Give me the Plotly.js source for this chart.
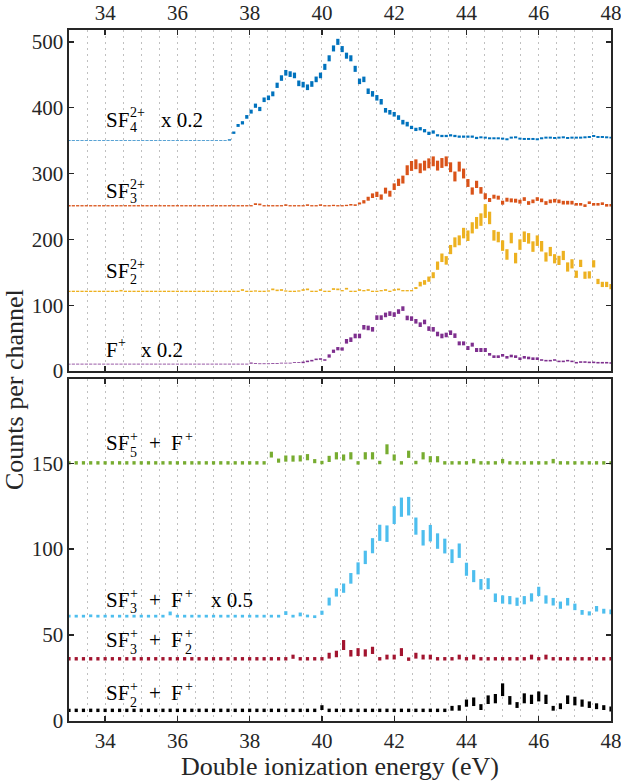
<!DOCTYPE html>
<html>
<head>
<meta charset="utf-8">
<script src="https://cdn.plot.ly/plotly-3.0.1.min.js"></script>
<style>
html,body{margin:0;padding:0;background:#fff;}
#chart{width:621px;height:781px;}
</style>
</head>
<body>
<div id="chart"></div>
<script>
// ---------- channel energies (eV) ----------
const topStart = 33, topStep = 0.12, topCount = 126;   // upper panel channels
const botStart = 33, botStep = 0.2,  botCount = 76;    // lower panel channels
const xTop = [], xBot = [];
for (let k = 0; k < topCount; k++) xTop.push(+(topStart + topStep * k).toFixed(3));
for (let j = 0; j < botCount; j++) xBot.push(+(botStart + botStep * j).toFixed(3));

const xTickVals = [34, 36, 38, 40, 42, 44, 46, 48];
const yTopTicks = [0, 100, 200, 300, 400, 500];
const yBotTicks = [0, 50, 100, 150];

// ---------- upper panel ----------
// SF4(2+) x 0.2 (offset 350)
const sf4Vals = [
 350,350,350,350,350,350,350,350,350,350,
 350,350,350,350,350,350,350,350,350,350,
 350,350,350,350,350,350,350,350,350,350,
 350,350,350,350,350,350,350,351,362,373,
 377,386,394,403,398,412,415,421,434,445,
 453,451,449,437,435,431,436,443,449,462,
 475,490,500,489,479,475,459,440,443,425,
 421,415,409,396,393,390,385,378,375,370,
 367,368,365,361,363,358,357,357,358,357,
 356,356,356,356,354,355,354.5,353.5,353.5,353.5,
 353,352,354.5,355,353,352.5,352.5,352.5,352,353.5,
 354.5,354.5,354,354.5,355,354,354.5,354.5,354.5,355,
 355.5,357,355.5,355.5,355,354.5];
const sf4Err = [
 0.5,0.5,0.5,0.5,0.5,0.5,0.5,0.5,0.5,0.5,
 0.5,0.5,0.5,0.5,0.5,0.5,0.5,0.5,0.5,0.5,
 0.5,0.5,0.5,0.5,0.5,0.5,0.5,0.5,0.5,0.5,
 0.5,0.5,0.5,0.5,0.5,0.5,0.5,1,1.8,2.2,
 2.5,2.8,3,3.2,3.2,3.5,3.5,3.7,4,4.2,
 4.3,4.3,4.3,4.3,4.3,4.3,4.3,4.3,4.3,4.6,
 4.6,4.6,4.6,4.6,4.6,4.6,4.6,4.2,4.2,4.2,
 4.2,4.2,4.2,3.5,3.5,3.5,3.5,3.5,3.5,2.5,
 2.5,2.5,2.5,2.5,2.5,1.7,1.7,1.7,1.7,1.7,
 1.7,1.7,1.7,1.7,1.7,1.5,1.5,1.5,1.5,1.5,
 1.5,1.5,1.5,1.5,1.5,1.5,1.5,1.5,1.5,1.5,
 1.5,1.5,1.5,1.5,1.5,1.5,1.5,1.5,1.5,1.5,
 1.5,1.5,1.5,1.5,1.5,1.5];

// SF3(2+) (offset 250)
const sf3Vals = [
 251,251,251,251,251,251,251,251,251,251,
 251,251,251,251,251,251,251,251,251,251,
 251,251,251,251,251,251,251,251,251,251,
 251,251,251,251,251,251,251,251,251,251,
 251,251,251,253.5,253,251,251,251,251,251,
 252,251,251,251,251,252,251,251,252,251,
 251,251.5,251,251,251.5,252.5,252,254.5,257,261.7,
 266.3,268.3,264.2,274,269.3,280,286.6,290.8,305,311.5,
 314,308,312,315.5,318.5,312,316,318.5,309.5,295.5,
 310.5,300,285.6,273.4,283.5,274.4,265.5,259.8,264.8,263.3,
 255.7,260.2,259.2,258.7,257.2,261.2,255.2,257.7,261.2,259.2,
 255.2,257.7,258.7,257.7,255.7,255.7,255.7,253.2,253.2,251.2,
 255.7,253.2,253.2,254.2,251.7,251.7];
const sf3Err = [
 1,1,1,1,1,1,1,1,1,1,
 1,1,1,1,1,1,1,1,1,1,
 1,1,1,1,1,1,1,1,1,1,
 1,1,1,1,1,1,1,1,1,1,
 1,1,1,1.3,1.3,1,1,1,1,1,
 1.2,1,1,1,1,1.2,1,1,1.2,1,
 1,1,1,1,1,1.2,1.2,1.5,2.5,3,
 3.5,4,4,4.5,4.5,5,5.5,6,7.5,7.5,
 7.5,7.5,7.5,7.5,7.5,7.5,7.5,7.5,7.5,7.5,
 7.5,7.5,6,5.5,5.5,5,4.5,3,3,3,
 3,3,3,3,3,2.8,2.8,2.8,2.8,2.8,
 2.8,2.8,2.8,2.8,2.8,2.8,2.8,2,2,2,
 2,2,2,2,2,2];

// SF2(2+) (offset 120)
const sf2Vals = [
 121,121,121,121,121,121,121,121,121,121,
 121,121,122,121,121,121,121,121,121,121,
 121,121,121,121,121,121,121,121,121,121,
 121,121,121,121,121,121,121,121,121,121,
 123,121,121,121.5,121,121,121.5,124,122.5,123,
 121.5,121,121,121.5,123,124,121,121,123,121,
 121,124.5,124,122,125,121,121,123,122,123,
 121,121,122,123,121,123,124,122,122,122,
 126,132,134.5,139.5,145.5,160,172,168,184.5,195.5,
 198.5,209.5,205.5,217.5,225,230,243,232.5,206,203.5,
 190.5,177,202,171.5,192,204,201.5,189,198,189.5,
 173.2,181.5,170.5,168,175.5,158,162.8,147,163.5,145.5,
 146,162.8,136,131.5,131.5,128];
const sf2Err = [
 1,1,1,1,1,1,1,1,1,1,
 1,1,1.2,1,1,1,1,1,1,1,
 1,1,1,1,1,1,1,1,1,1,
 1,1,1,1,1,1,1,1,1,1,
 1.3,1,1,1,1,1,1,1.3,1.2,1.3,
 1,1,1,1,1.3,1.3,1,1,1.3,1,
 1,1.3,1.3,1,1.3,1,1,1.3,1,1.3,
 1,1,1,1.3,1,1.3,1.3,1,1,1,
 1.5,3.5,3.5,4,4.5,6.3,6.5,6.5,7,7.5,
 7.5,8,8,8.5,9,9.5,10.5,9.5,8,8,
 8,8,8,8,8,8,8,8,8,8,
 7,7,7,7,7,7,7,5.5,5.5,5.5,
 5.5,5.5,4,4,4,4];

// F(+) x 0.2 (offset 10)
const fVals = [
 10.5,10.5,10.5,10.5,10.5,10.5,10.5,10.5,10.5,10.5,
 10.5,10.5,10.5,10.5,10.5,10.5,10.5,10.5,10.5,10.5,
 10.5,10.5,10.5,10.5,10.5,10.5,10.5,10.5,10.5,10.5,
 10.5,10.5,10.5,10.5,10.5,10.5,10.5,10.5,10.5,10.5,
 10.5,10.5,12,11.5,11,11,11,11.5,11.5,12,
 12,12,13,13,13.1,14.6,15.7,17.7,18.2,16.7,
 22.8,30,33.9,33.4,45.1,47.6,53.2,53.2,66.4,65.4,
 63.3,81.1,81.1,85.2,87.2,85.7,90.3,94.8,80.6,79.6,
 75.5,70.4,74.5,64.4,63.3,56.2,53.2,54.7,58.2,53.7,
 42,42,34.9,40,31.9,31.9,31.9,25.3,21.8,21.8,
 23.8,20.8,22.8,21.8,18.7,20.8,19.8,18.7,18.7,16.7,
 15.7,15.7,16.7,14.6,14.6,15.7,14.6,12.6,13.6,13.6,
 13.1,13.1,12.6,12.6,12.6,12.1];
const fErr = [
 0.6,0.6,0.6,0.6,0.6,0.6,0.6,0.6,0.6,0.6,
 0.6,0.6,0.6,0.6,0.6,0.6,0.6,0.6,0.6,0.6,
 0.6,0.6,0.6,0.6,0.6,0.6,0.6,0.6,0.6,0.6,
 0.6,0.6,0.6,0.6,0.6,0.6,0.6,0.6,0.6,0.6,
 0.6,0.6,0.9,0.6,0.6,0.6,0.6,0.6,0.6,0.6,
 0.6,0.6,0.6,0.6,1.2,1.2,1.2,1.2,1.2,1.2,
 2.5,2.5,2.5,2.5,3.5,3.5,3.5,3.5,3.5,3.5,
 3.5,3.5,3.5,3.5,3.5,3.5,3.5,3.5,3.5,3.5,
 3.5,3.5,3.5,3.5,3.5,3.5,3.5,3.5,3.5,3.5,
 3,3,3,3,3,3,3,2,2,2,
 2,2,2,2,2,2,2,2,2,1.2,
 1.2,1.2,1.2,1.2,1.2,1.2,1.2,1.2,1.2,1.2,
 1.2,1.2,1.2,1.2,1.2,1.2];

// ---------- lower panel ----------
// SF5(+) + F(+) (offset 150)
const sf5fVals = [
 150.2,150.2,150.2,150.2,150.2,150.2,150.2,150.2,150.2,150.2,
 150.2,150.2,150.2,150.2,150.2,150.2,150.2,150.2,150.2,150.2,
 150.2,150.2,150.2,150.2,150.2,150.2,150.2,150.2,155,151.5,
 152.7,152.7,152.8,153.5,151.2,150.4,152.5,154.3,153.3,154.3,
 150.2,154.3,154.3,150.4,158.1,153.3,150.2,155.2,150.4,154.3,
 152.3,152.3,150.2,150.2,150.2,150.2,151.2,150.2,150.2,150.2,
 151.2,150.2,150.2,150.2,150.2,150.2,150.2,151.2,150.2,150.2,
 150.2,150.2,150.2,150.2,150.2,150.2];
const sf5fErr = [
 1,1,1,1,1,1,1,1,1,1,
 1,1,1,1,1,1,1,1,1,1,
 1,1,1,1,1,1,1,1,1.7,1.2,
 1.8,1.8,1.8,1.8,1.2,1,1.8,2.1,1.8,2.1,
 1,2.1,2.1,1,2.9,1.8,1,2.1,1,2.1,
 1.8,1.8,1,1,1,1,1.3,1,1,1,
 1.3,1,1,1,1,1,1,1.3,1,1,
 1,1,1,1,1,1];

// SF3(+) + F(+) x 0.5 (offset 60)
const sf3fVals = [
 61,61,61,61.2,61,61,61,61,61,61,
 61,61,61,61,62.6,61,61,61,61,61,
 61,61,61,61,61,61,61,61,61,61,
 62.8,61,62,61.1,60.7,63,69.5,74.8,77.3,83,
 88.8,95.2,102,109.5,109,119.8,124.4,125,113.4,106.6,
 109.3,104.7,101.8,95.9,99.1,88.3,84.3,79.5,79.9,71.7,
 70.7,70.3,69.4,70.3,71.9,75.4,70.7,69.4,67.4,69.4,
 66.4,63.2,62.6,65.3,63.9,63.5];
const sf3fErr = [
 0.8,0.8,0.8,0.8,0.8,0.8,0.8,0.8,0.8,0.8,
 0.8,0.8,0.8,0.8,1.1,0.8,0.8,0.8,0.8,0.8,
 0.8,0.8,0.8,0.8,0.8,0.8,0.8,0.8,0.8,0.8,
 1.1,0.8,1.1,0.8,0.8,1.2,2.3,2.4,2.7,3.1,
 3.5,3.9,4.4,4.7,4.8,5.2,5.6,5.4,5,4.5,
 4.8,4.5,4.3,4,4.2,3.8,3.5,3.1,3.2,2.5,
 2.4,2.4,2.4,2.4,2.4,2.7,2.4,2.2,2.1,2.2,
 1.9,1.4,1.2,1.6,1.4,1.4];

// SF3(+) + F2(+) (offset 35)
const sf3f2Vals = [
 36.2,36.2,36.2,36.2,36.2,36.2,36.2,36.2,36.2,36.2,
 36.2,36.2,36.2,36.2,36.2,36.2,36.2,36.2,36.2,36.2,
 36.2,36.2,36.2,36.2,36.2,36.2,36.2,36.2,36.2,36.2,
 36.2,37.4,36.2,36.2,36.2,36.2,38,39,44.2,39.4,
 40.1,39.6,41.1,36.2,37.2,37.2,40.1,36,38,37.2,
 37.2,36.2,36.2,36.2,37.2,36.2,37.2,36.2,36.2,36.2,
 36.2,36.2,36.2,36.2,37.2,36.2,37.2,36.2,36.2,36.2,
 36.2,36.2,36.2,36.2,36.2,36.2];
const sf3f2Err = [
 1,1,1,1,1,1,1,1,1,1,
 1,1,1,1,1,1,1,1,1,1,
 1,1,1,1,1,1,1,1,1,1,
 1,1.2,1,1,1,1,1.7,1.9,2.9,1.9,
 2.3,2.1,2.1,1,1.4,1.4,2.3,1,1.7,1.4,
 1.4,1,1,1,1.4,1,1.4,1,1,1,
 1,1,1,1,1.4,1,1.4,1,1,1,
 1,1,1,1,1,1];

// SF2(+) + F(+) (offset 5)
const sf2fVals = [
 6.2,6.2,6.2,6.2,6.2,6.2,6.2,6.2,6.2,6.2,
 6.2,6.2,6.2,6.2,6.2,6.2,6.2,6.2,6.2,6.2,
 6.2,6.2,6.2,6.2,6.2,6.2,6.2,6.2,6.2,6.2,
 6.2,6.2,6.2,6.2,6.2,7.8,6.2,6.2,6.2,6.2,
 6.2,6.2,6.2,6.2,6.2,6.2,6.2,6.2,6.2,6.2,
 6.2,6.2,6.2,7.4,7.6,10.4,11.2,8.1,12.4,13,
 18.2,12,9.3,13.2,12.6,14.3,12.6,7.4,8.6,12.4,
 11.6,10.4,9.5,8.6,7.8,7];
const sf2fErr = [
 1,1,1,1,1,1,1,1,1,1,
 1,1,1,1,1,1,1,1,1,1,
 1,1,1,1,1,1,1,1,1,1,
 1,1,1,1,1,1.4,1,1,1,1,
 1,1,1,1,1,1,1,1,1,1,
 1,1,1,1.4,1.6,2.1,2.5,1.7,2.5,2.7,
 3.7,2.5,1.7,2.9,2.7,2.9,2.7,1.4,1.7,2.5,
 2.5,2.1,1.9,1.7,1.4,1.4];

// ---------- drawing ----------
const FONT = 'Liberation Serif';
const AX = '#262626';

function barTrace(xs, vals, errs, color, xa, ya, name) {
  const x = [], y = [];
  for (let i = 0; i < vals.length; i++) {
    x.push(xs[i], xs[i], null);
    y.push(vals[i] - errs[i], vals[i] + errs[i], null);
  }
  return {type: 'scatter', mode: 'lines', name: name, x: x, y: y,
          xaxis: xa, yaxis: ya, connectgaps: false,
          line: {color: color, width: 3.2}, hoverinfo: 'skip', showlegend: false};
}

const traces = [
  barTrace(xTop, sf4Vals, sf4Err, '#0072BD', 'x2', 'y2', 'SF4 2+'),
  barTrace(xTop, sf3Vals, sf3Err, '#D95319', 'x2', 'y2', 'SF3 2+'),
  barTrace(xTop, sf2Vals, sf2Err, '#EDB120', 'x2', 'y2', 'SF2 2+'),
  barTrace(xTop, fVals,   fErr,   '#7E2F8E', 'x2', 'y2', 'F+'),
  barTrace(xBot, sf5fVals,  sf5fErr,  '#77AC30', 'x', 'y', 'SF5+ + F+'),
  barTrace(xBot, sf3fVals,  sf3fErr,  '#4DBEEE', 'x', 'y', 'SF3+ + F+'),
  barTrace(xBot, sf3f2Vals, sf3f2Err, '#A2142F', 'x', 'y', 'SF3+ + F2+'),
  barTrace(xBot, sf2fVals,  sf2fErr,  '#000000', 'x', 'y', 'SF2+ + F+')
];

// plot area in pixels: x 69..611, y 30..721
const PL = 69, PW = 542, PB = 721, PH = 691;
function txt(px, base, text, size) {
  return {xref: 'paper', yref: 'paper',
          x: (px - PL) / PW, y: (PB - (base - 0.3375 * size)) / PH,
          xanchor: 'left', yanchor: 'middle', text: text, showarrow: false,
          borderpad: 0, font: {family: FONT, size: size, color: '#000'}};
}
const M = 21, S = 14;
const ann = [
  // upper panel labels
  txt(105,127,'SF',M), txt(129,117.5,'2+',S), txt(129,132,'4',S), txt(160,127,'x 0.2',M),
  txt(105,198.5,'SF',M), txt(129,189,'2+',S), txt(129,203.5,'3',S),
  txt(105,278.5,'SF',M), txt(129,269.5,'2+',S), txt(129,284,'2',S),
  txt(105,356.7,'F',M), txt(117,347,'+',S), txt(140,356.7,'x 0.2',M),
  // lower panel labels
  txt(105,450,'SF',M), txt(129,441,'+',S), txt(129,457,'5',S), txt(148,450,'+',M), txt(170,450,'F',M), txt(184,441,'+',S),
  txt(105,606.7,'SF',M), txt(129,598,'+',S), txt(129,613.5,'3',S), txt(148,606.7,'+',M), txt(170,606.7,'F',M), txt(184,598,'+',S), txt(210,606.7,'x 0.5',M),
  txt(105,647.3,'SF',M), txt(129,638.5,'+',S), txt(129,654.5,'3',S), txt(148,647.3,'+',M), txt(170,647.3,'F',M), txt(184,638.5,'+',S), txt(184,654.5,'2',S),
  txt(105,700,'SF',M), txt(129,691.5,'+',S), txt(129,707,'2',S), txt(148,700,'+',M), txt(170,700,'F',M), txt(184,691.5,'+',S),
  // y-axis title spanning both panels
  {xref: 'paper', yref: 'paper', x: (14 - PL) / PW, y: (PB - 390) / PH,
   xanchor: 'center', yanchor: 'middle', textangle: -90, showarrow: false,
   text: 'Counts per channel', font: {family: FONT, size: 26, color: AX}}
];

function xAxis(anchor, side) {
  return {
    anchor: anchor, side: side, range: [33, 48], tickvals: xTickVals,
    ticks: 'inside', ticklen: 5, tickwidth: 1.3, tickcolor: AX,
    showline: true, linecolor: AX, linewidth: 1.6, mirror: 'ticks',
    showgrid: true, gridcolor: '#c0c0c0', gridwidth: 1, griddash: '2px,4px',
    minor: {dtick: 0.5, tick0: 33, showgrid: true, gridcolor: '#c0c0c0', gridwidth: 1, griddash: '2px,4px', ticks: ''},
    zeroline: false, ticklabeloverflow: 'allow',
    tickfont: {family: FONT, size: 21, color: AX}
  };
}
function yAxis(anchor, domain, range, tickvals) {
  return {
    anchor: anchor, domain: domain, range: range, tickvals: tickvals,
    ticks: 'inside', ticklen: 5, tickwidth: 1.3, tickcolor: AX,
    showline: true, linecolor: AX, linewidth: 1.6, mirror: 'ticks',
    showgrid: false, zeroline: false, ticklabeloverflow: 'allow',
    tickfont: {family: FONT, size: 21, color: AX}
  };
}

const xb = xAxis('y', 'bottom');
xb.title = {text: 'Double ionization energy (eV)', font: {family: FONT, size: 26, color: AX}, standoff: 4};
const xt = xAxis('y2', 'top');
xt.matches = 'x';

const layout = {
  width: 621, height: 781,
  margin: {l: PL, r: 621 - PL - PW, t: 30, b: 781 - PB, pad: 0},
  paper_bgcolor: '#ffffff', plot_bgcolor: '#ffffff',
  font: {family: FONT, size: 21, color: AX},
  showlegend: false,
  xaxis: xb,
  xaxis2: xt,
  yaxis: yAxis('x', [0, 342 / PH], [0, 199], yBotTicks),
  yaxis2: yAxis('x2', [350 / PH, 1], [0, 518], yTopTicks),
  annotations: ann
};

Plotly.newPlot('chart', traces, layout, {staticPlot: true, displayModeBar: false});
</script>
</body>
</html>
